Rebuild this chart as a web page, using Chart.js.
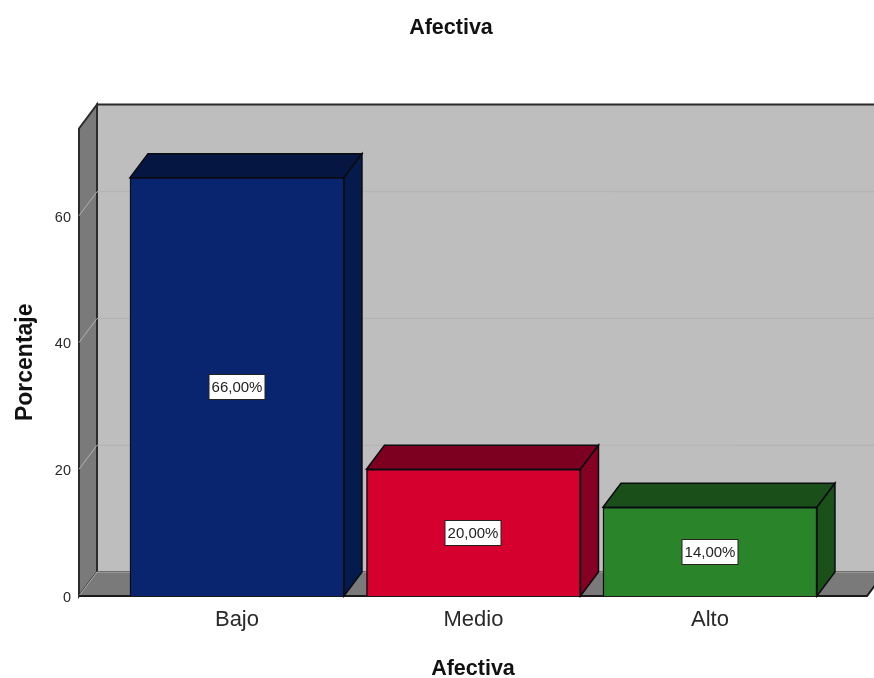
<!DOCTYPE html>
<html lang="es">
<head>
<meta charset="utf-8">
<title>Afectiva</title>
<script src="https://cdn.jsdelivr.net/npm/chart.js@4/dist/chart.umd.min.js"></script>
<style>
    html, body { margin: 0; padding: 0; background: #fff; overflow: hidden; }
    canvas { display: block; }
</style>
</head>
<body>
<canvas id="afectivaChart" width="874" height="678"></canvas>
<script>
// Datos
const categories = ['Bajo', 'Medio', 'Alto'];
const percentages = [66, 20, 14];
const frontColors = ['#0a2570', '#d6002f', '#2a852a'];
const topColors = ['#051643', '#7d0020', '#1a4f1a'];
const sideColors = ['#051a4d', '#850022', '#195118'];

// Desplazamiento de la profundidad 3D
const depthX = 18;
const depthY = -24;
const fontName = '"Liberation Sans", Arial, sans-serif';
const barEdge = '#0b0b12';

function polygon(ctx, points, fill, stroke, width) {
    ctx.beginPath();
    points.forEach((p, i) => i ? ctx.lineTo(p[0], p[1]) : ctx.moveTo(p[0], p[1]));
    ctx.closePath();
    ctx.fillStyle = fill;
    ctx.fill();
    if (stroke) {
        ctx.strokeStyle = stroke;
        ctx.lineWidth = width || 1;
        ctx.stroke();
    }
}

// Paredes, suelo y lineas de cuadricula
const wallsPlugin = {
    id: 'walls',
    beforeDatasetsDraw(chart) {
        const ctx = chart.ctx;
        const { left, right, top, bottom } = chart.chartArea;
        const y = chart.scales.y;
        const edge = '#2b2b2b';

        polygon(ctx, [[left + depthX, top + depthY], [right + depthX, top + depthY],
            [right + depthX, bottom + depthY], [left + depthX, bottom + depthY]], '#bebebe', edge, 2);
        polygon(ctx, [[left, top], [left + depthX, top + depthY],
            [left + depthX, bottom + depthY], [left, bottom]], '#7a7a7a', edge, 2);
        polygon(ctx, [[left, bottom], [left + depthX, bottom + depthY],
            [right + depthX, bottom + depthY], [right, bottom]], '#7a7a7a', null);

        ctx.lineWidth = 1;
        y.ticks.forEach(tick => {
            const py = y.getPixelForValue(tick.value);
            ctx.strokeStyle = '#b2b2b2';
            ctx.beginPath();
            ctx.moveTo(left, py);
            ctx.lineTo(left + depthX, py + depthY);
            ctx.lineTo(right + depthX, py + depthY);
            ctx.stroke();
        });

        // Borde delantero del suelo
        ctx.strokeStyle = '#1a1a1a';
        ctx.lineWidth = 2;
        ctx.beginPath();
        ctx.moveTo(left, bottom);
        ctx.lineTo(right, bottom);
        ctx.lineTo(right + depthX, bottom + depthY);
        ctx.stroke();

        // Caras superior y lateral de cada barra
        chart.getDatasetMeta(0).data.forEach((bar, i) => {
            const l = bar.x - bar.width / 2;
            const r = bar.x + bar.width / 2;
            polygon(ctx, [[l, bar.y], [l + depthX, bar.y + depthY],
                [r + depthX, bar.y + depthY], [r, bar.y]], topColors[i], barEdge, 1.5);
            polygon(ctx, [[r, bar.y], [r + depthX, bar.y + depthY],
                [r + depthX, bar.base + depthY], [r, bar.base]], sideColors[i], barEdge, 1.5);
        });
    }
};

// Etiquetas de porcentaje dentro de las barras
const valueLabelsPlugin = {
    id: 'valueLabels',
    afterDatasetsDraw(chart) {
        const ctx = chart.ctx;
        ctx.font = '15px ' + fontName;
        ctx.textAlign = 'center';
        ctx.textBaseline = 'middle';
        chart.getDatasetMeta(0).data.forEach((bar, i) => {
            const text = percentages[i].toFixed(2).replace('.', ',') + '%';
            const w = 56;
            const h = 25;
            const cx = Math.round(bar.x);
            const cy = Math.round((bar.y + bar.base) / 2);
            ctx.fillStyle = '#fff';
            ctx.fillRect(cx - w / 2, cy - h / 2, w, h);
            ctx.strokeStyle = '#222';
            ctx.lineWidth = 1;
            ctx.strokeRect(cx - w / 2, cy - h / 2, w, h);
            ctx.fillStyle = '#222';
            ctx.fillText(text, cx, cy + 1);
        });
    }
};

new Chart(document.getElementById('afectivaChart').getContext('2d'), {
    type: 'bar',
    data: {
        datasets: [{
            label: 'Afectiva',
            data: percentages.map((v, i) => ({ x: i + 1, y: v })),
            backgroundColor: frontColors,
            borderColor: barEdge,
            borderWidth: 1.5,
            barThickness: 214
        }]
    },
    options: {
        responsive: false,
        animation: false,
        layout: { padding: { left: 35, right: 7 } },
        plugins: {
            legend: { display: false },
            tooltip: { enabled: false },
            title: {
                display: true,
                text: 'Afectiva',
                color: '#111',
                font: { family: fontName, size: 21.5, weight: 'bold' },
                padding: { top: 15, bottom: 87.7 }
            }
        },
        scales: {
            x: {
                type: 'linear',
                offset: false,
                min: 0.332,
                max: 3.664,
                grid: { display: false },
                border: { display: false },
                afterBuildTicks(scale) {
                    scale.ticks = categories.map((c, i) => ({ value: i + 1 }));
                },
                afterFit(scale) {
                    scale.height = 82;
                },
                ticks: {
                    autoSkip: false,
                    maxRotation: 0,
                    color: '#2a2a2a',
                    padding: 3,
                    font: { family: fontName, size: 22 },
                    callback: value => categories[value - 1]
                },
                title: {
                    display: true,
                    text: 'Afectiva',
                    color: '#111',
                    font: { family: fontName, size: 21.5, weight: 'bold' },
                    padding: { top: 0, bottom: -4 }
                }
            },
            y: {
                min: 0,
                max: 73.76,
                grid: { display: false },
                border: { display: false },
                afterFit(scale) {
                    scale.width = 44;
                },
                ticks: {
                    stepSize: 20,
                    includeBounds: false,
                    color: '#2a2a2a',
                    padding: 0,
                    labelOffset: 2,
                    font: { family: fontName, size: 14.5 }
                },
                title: {
                    display: true,
                    text: 'Porcentaje',
                    color: '#111',
                    font: { family: fontName, size: 23, weight: 'bold' },
                    padding: { top: -23, bottom: 0 }
                }
            }
        }
    },
    plugins: [wallsPlugin, valueLabelsPlugin]
});
</script>
</body>
</html>
